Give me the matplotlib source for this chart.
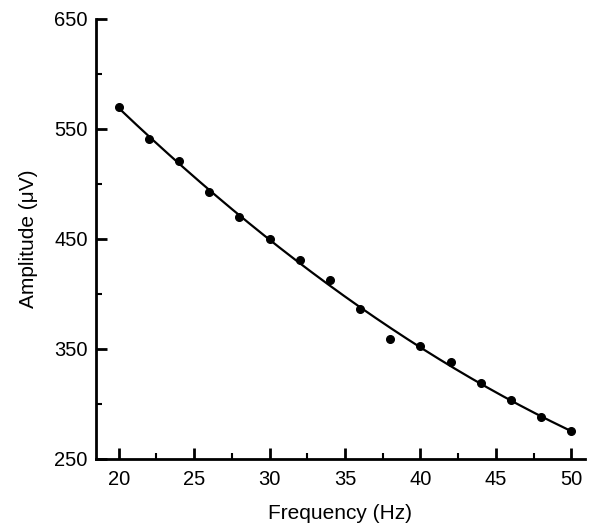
import numpy as np
import matplotlib
matplotlib.use("Agg")
import matplotlib.pyplot as plt
from matplotlib.ticker import MultipleLocator

freq = [20, 22, 24, 26, 28, 30, 32, 34, 36, 38, 40, 42, 44, 46, 48, 50]
amplitude = [570, 541, 521, 493, 470, 450, 431, 413, 386, 359, 353, 338, 319, 304, 288, 275]
xticks = [20, 25, 30, 35, 40, 45, 50]
yticks = [250, 350, 450, 550, 650]

plt.rcParams['font.family'] = ['Liberation Sans', 'DejaVu Sans']

fig = plt.figure(figsize=(5.89, 5.23), dpi=100)
ax = fig.add_axes([0.163, 0.1224, 0.83, 0.8413])

coef = np.polyfit(freq, amplitude, 2)
xf = np.linspace(freq[0], freq[-1], 200)
ax.plot(xf, np.polyval(coef, xf), color='black', lw=1.6)
ax.plot(freq, amplitude, 'o', color='black', ms=5.5)

ax.set_xlim(18.5, 50.9)
ax.set_ylim(250, 650)
ax.set_xticks(xticks)
ax.set_yticks(yticks)
ax.xaxis.set_minor_locator(MultipleLocator(2.5))
ax.yaxis.set_minor_locator(MultipleLocator(50))
for s in ['top', 'right']:
    ax.spines[s].set_visible(False)
for s in ['left', 'bottom']:
    ax.spines[s].set_linewidth(2)
ax.tick_params(which='major', direction='in', length=8, width=2, labelsize=14.5)
ax.tick_params(axis='x', which='major', pad=8)
ax.tick_params(axis='y', which='major', pad=6)
ax.tick_params(which='minor', direction='in', length=4, width=1.5)
ax.set_xlabel('Frequency (Hz)', fontsize=15, labelpad=11)
ax.set_ylabel('Amplitude (μV)', fontsize=15, labelpad=12)

fig.savefig('out.png', dpi=100)
